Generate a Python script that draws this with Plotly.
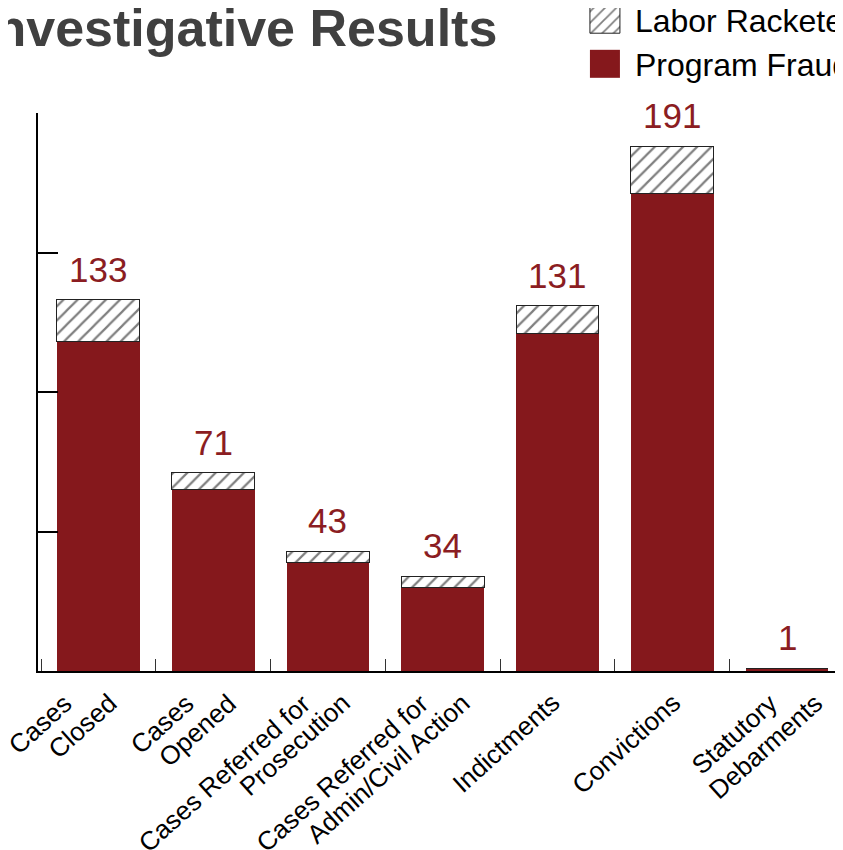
import plotly.graph_objects as go

# ---- data ----
categories = ["Cases Closed", "Cases Opened", "Cases Referred for Prosecution",
              "Cases Referred for Admin/Civil Action", "Indictments", "Convictions",
              "Statutory Debarments"]
tick_lines = [["Cases", "Closed"], ["Cases", "Opened"], ["Cases Referred for", "Prosecution"],
              ["Cases Referred for", "Admin/Civil Action"], ["Indictments"], ["Convictions"],
              ["Statutory", "Debarments"]]
program_fraud = [118, 65, 39, 30, 121, 171, 1]
labor_racketeering = [15, 6, 4, 4, 10, 17, 0]
total_labels = [133, 71, 43, 34, 131, 191, 1]
y_ticks = [0, 50, 100, 150, 200]

# ---- styles ----
RED = "#85181C"
LABEL_RED = "#8B1D22"
FONT = "Liberation Sans, Arial, sans-serif"
line_xshift = [[-18, 27], [-11, 32], [-9, 30], [-6, 35], [11], [16], [-1, 45]]

fig = go.Figure()
fig.add_trace(go.Bar(
    x=categories, y=program_fraud, name="Program Fraud",
    marker=dict(color=RED, line=dict(width=0)),
))
fig.add_trace(go.Bar(
    x=categories, y=labor_racketeering, name="Labor Racketeering",
    marker=dict(color="white", line=dict(color="#222222", width=1),
                pattern=dict(shape="/", fgcolor="black", bgcolor="white", size=10, solidity=0.22)),
))

annotations = []
# value labels above stacks
for cat, p, l, t in zip(categories, program_fraud, labor_racketeering, total_labels):
    annotations.append(dict(
        x=cat, y=p + l, xref="x", yref="y", text=str(t), showarrow=False,
        xanchor="center", yanchor="bottom", yshift=9,
        font=dict(family=FONT, size=35, color=LABEL_RED)))

# rotated category labels
for cat, lines, shifts in zip(categories, tick_lines, line_xshift):
    for txt, sh in zip(lines, shifts):
        annotations.append(dict(
            x=cat, y=0, xref="x", yref="y", text=txt, showarrow=False,
            xanchor="right", yanchor="top", yshift=-14, xshift=sh, textangle=-42,
            font=dict(family=FONT, size=26, color="black")))

# title (cut off on the left as in the reference)
annotations.append(dict(
    x=0, y=1, xref="paper", yref="paper", text="<b>Investigative Results</b>",
    showarrow=False, xanchor="left", yanchor="top", xshift=-60, yshift=116,
    font=dict(family=FONT, size=52, color="#404040")))

fig.update_layout(
    width=835, height=842,
    margin=dict(l=30, r=0, t=105, b=179, autoexpand=False),
    paper_bgcolor="white", plot_bgcolor="white",
    barmode="stack", bargap=0.277,
    showlegend=True,
    legend=dict(x=0.667, y=1.217, xanchor="left", yanchor="top",
                traceorder="reversed", itemwidth=50,
                font=dict(family=FONT, size=32, color="black"),
                bgcolor="rgba(0,0,0,0)"),
    annotations=annotations,
    xaxis=dict(range=[-0.527, 6.488], showticklabels=False,
               showline=True, linecolor="black", linewidth=1.5,
               ticks="inside", tickson="boundaries", ticklen=12, tickwidth=1,
               tickcolor="#333333", showgrid=False, zeroline=False),
    yaxis=dict(range=[0, 200], tickvals=y_ticks, showticklabels=False,
               showline=True, linecolor="black", linewidth=2,
               ticks="inside", ticklen=20, tickwidth=2, tickcolor="black",
               showgrid=False, zeroline=False),
)

post = """
var gd = document.getElementById('{plot_id}');
function bigSwatches(){
  gd.querySelectorAll('.legendpoints path').forEach(function(p){
    p.setAttribute('d','M15,14H-15V-14H15Z');
  });
}
bigSwatches();
setTimeout(bigSwatches, 50);
setTimeout(bigSwatches, 300);
if (gd.on) { gd.on('plotly_afterplot', bigSwatches); }
"""
fig.write_html("out.html", post_script=post)
